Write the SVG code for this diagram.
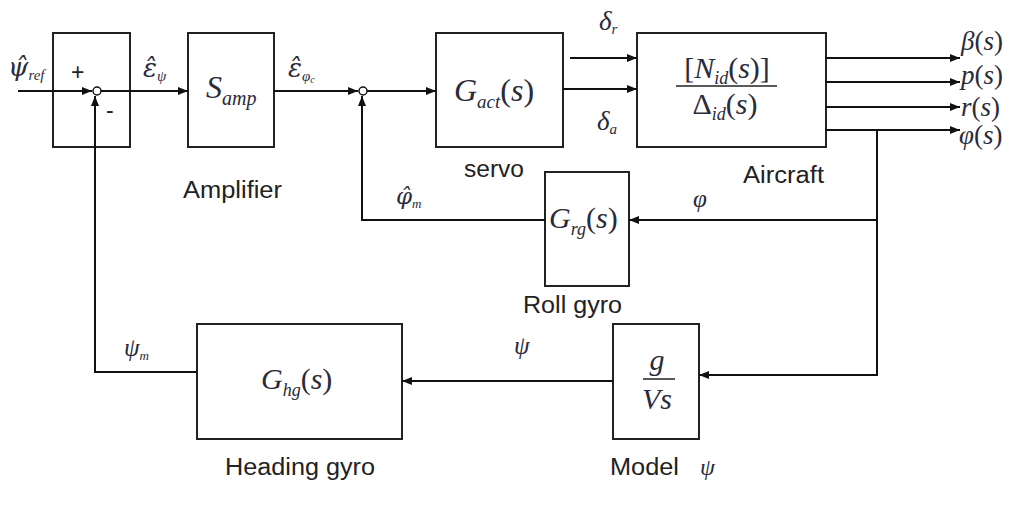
<svg xmlns="http://www.w3.org/2000/svg" width="1015" height="507" viewBox="0 0 1015 507">
<style>
.box{fill:#fff;stroke:#222;stroke-width:2}
.ln{fill:none;stroke:#111;stroke-width:2}
.m{font-family:"Liberation Serif",serif;font-style:italic;fill:#2a2a3a}
.d{font-family:"DejaVu Serif",serif;font-style:italic}
.n{font-style:normal}
.t{font-family:"Liberation Sans",Arial,sans-serif;fill:#222;font-size:23px}
</style>
<defs>
<marker id="ar" viewBox="0 0 10 10" refX="10" refY="5" markerWidth="10" markerHeight="10" markerUnits="userSpaceOnUse" orient="auto">
<path d="M0,1 L10,5 L0,9 Z" fill="#111"/>
</marker>
</defs>
<rect width="1015" height="507" fill="#fff"/>
<g id="sum1">
<rect class="box" x="53" y="33" width="77" height="114"/>
<text class="t" x="71" y="80" font-size="15">+</text>
<text class="t" x="106" y="118" font-size="20">-</text>
</g>
<g id="amp">
<rect class="box" x="188" y="33" width="86" height="114"/>
<text class="m" x="206" y="98" font-size="32">S<tspan font-size="20" dy="7">amp</tspan></text>
<text class="t" x="183" y="198" textLength="99" lengthAdjust="spacingAndGlyphs">Amplifier</text>
</g>
<g id="servo">
<rect class="box" x="436" y="33" width="127" height="114"/>
<text class="m" x="454" y="101" font-size="32">G<tspan font-size="19" dy="7">act</tspan><tspan dy="-7" class="n">(</tspan>s<tspan class="n">)</tspan></text>
<text class="t" x="464" y="177" textLength="60" lengthAdjust="spacingAndGlyphs">servo</text>
</g>
<g id="aircraft">
<rect class="box" x="637" y="33" width="189" height="114"/>
<text class="m" x="727" y="78" font-size="30" text-anchor="middle"><tspan class="n">[</tspan>N<tspan font-size="18" dy="6">id</tspan><tspan dy="-6" class="n">(</tspan>s<tspan class="n">)]</tspan></text>
<line x1="676" y1="86" x2="777" y2="86" stroke="#222" stroke-width="1.5"/>
<text class="m" x="725" y="114" font-size="30" text-anchor="middle"><tspan class="n">Δ</tspan><tspan font-size="18" dy="6">id</tspan><tspan dy="-6" class="n">(</tspan>s<tspan class="n">)</tspan></text>
<text class="t" x="743" y="183" textLength="81" lengthAdjust="spacingAndGlyphs">Aircraft</text>
</g>
<g id="rollgyro">
<rect class="box" x="545" y="172" width="84" height="114"/>
<text class="m" x="549" y="228" font-size="30">G<tspan font-size="18" dy="7">rg</tspan><tspan dy="-7" class="n">(</tspan>s<tspan class="n">)</tspan></text>
<text class="t" x="523" y="313" textLength="99" lengthAdjust="spacingAndGlyphs">Roll gyro</text>
</g>
<g id="headinggyro">
<rect class="box" x="197" y="324" width="205" height="115"/>
<text class="m" x="261" y="389" font-size="30">G<tspan font-size="18" dy="7">hg</tspan><tspan dy="-7" class="n">(</tspan>s<tspan class="n">)</tspan></text>
<text class="t" x="225" y="475" textLength="150" lengthAdjust="spacingAndGlyphs">Heading gyro</text>
</g>
<g id="model">
<rect class="box" x="613" y="324" width="86" height="115"/>
<text class="m" x="657" y="370" font-size="30" text-anchor="middle">g</text>
<line x1="643" y1="379" x2="675" y2="379" stroke="#222" stroke-width="1.5"/>
<text class="m" x="657" y="409" font-size="30" text-anchor="middle">Vs</text>
<text class="t" x="610" y="475" textLength="69" lengthAdjust="spacingAndGlyphs">Model</text>
<text class="m" x="700" y="475" font-size="24">ψ</text>
</g>
<g id="connectors">
<path class="ln" d="M18,91 H92" marker-end="url(#ar)"/>
<circle cx="97" cy="91" r="4" fill="#fff" stroke="#111" stroke-width="1.5"/>
<path class="ln" d="M101,91 H188" marker-end="url(#ar)"/>
<path class="ln" d="M274,91 H358" marker-end="url(#ar)"/>
<circle cx="363" cy="91" r="4" fill="#fff" stroke="#111" stroke-width="1.5"/>
<path class="ln" d="M367,91 H436" marker-end="url(#ar)"/>
<path class="ln" d="M570,58 H637" marker-end="url(#ar)"/>
<path class="ln" d="M563,89 H637" marker-end="url(#ar)"/>
<path class="ln" d="M826,58 H960" marker-end="url(#ar)"/>
<path class="ln" d="M826,82 H960" marker-end="url(#ar)"/>
<path class="ln" d="M826,107 H960" marker-end="url(#ar)"/>
<path class="ln" d="M826,130 H960" marker-end="url(#ar)"/>
<path class="ln" d="M877,130 V375 H699" marker-end="url(#ar)"/>
<path class="ln" d="M877,220 H629" marker-end="url(#ar)"/>
<path class="ln" d="M545,220 H362 V96" marker-end="url(#ar)"/>
<path class="ln" d="M613,381 H402" marker-end="url(#ar)"/>
<path class="ln" d="M197,372 H95 V96" marker-end="url(#ar)"/>
</g>
<g id="labels">
<text class="m" x="8" y="76" font-size="26"><tspan class="d">ψ̂</tspan><tspan font-size="15" dy="4">ref</tspan></text>
<text class="m" x="143" y="77" font-size="26"><tspan class="d">ε̂</tspan><tspan font-size="15" dy="4">ψ</tspan></text>
<text class="m" x="288" y="77" font-size="26"><tspan class="d">ε̂</tspan><tspan font-size="15" dy="4">φ</tspan><tspan font-size="10" dy="2">c</tspan></text>
<text class="m" x="599" y="30" font-size="27">δ<tspan font-size="15" dy="4">r</tspan></text>
<text class="m" x="597" y="130" font-size="27">δ<tspan font-size="15" dy="4">a</tspan></text>
<text class="m" x="961" y="50" font-size="27">β<tspan class="n">(</tspan>s<tspan class="n">)</tspan></text>
<text class="m" x="961" y="84" font-size="27">p<tspan class="n">(</tspan>s<tspan class="n">)</tspan></text>
<text class="m" x="961" y="116" font-size="27">r<tspan class="n">(</tspan>s<tspan class="n">)</tspan></text>
<text class="m" x="959" y="144" font-size="27">φ<tspan class="n">(</tspan>s<tspan class="n">)</tspan></text>
<text class="m" x="396" y="204" font-size="23"><tspan class="d">φ̂</tspan><tspan font-size="13" dy="4">m</tspan></text>
<text class="m" x="693" y="207" font-size="25">φ</text>
<text class="m" x="124" y="356" font-size="25">ψ<tspan font-size="13" dy="4">m</tspan></text>
<text class="m" x="514" y="354" font-size="25">ψ</text>
</g>
</svg>
